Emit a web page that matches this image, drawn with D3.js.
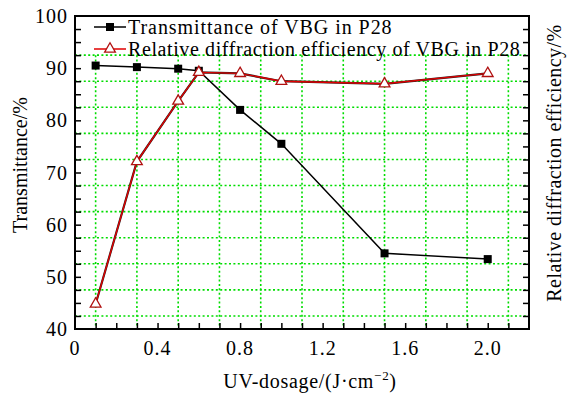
<!DOCTYPE html>
<html lang="en">
<head>
    <meta charset="UTF-8">
    <title>VBG transmittance</title>
    <style>
        body { margin: 0; background: white; }
        svg { display: block; font-family: "Liberation Serif", "Times New Roman", serif; }
    </style>
</head>
<body>
    <svg width="572" height="396"></svg>
    <script src="https://d3js.org/d3.v7.min.js"></script>
    <script>
        // data
        const dosage = [0.1, 0.3, 0.5, 0.6, 0.8, 1.0, 1.5, 2.0]
        const transmittance = [90.5, 90.2, 89.9, 89.5, 82.0, 75.5, 54.5, 53.4]
        const diffraction = [44.8, 72.1, 83.7, 89.2, 89.0, 87.5, 87.0, 89.0]
        const xTickLabels = [0, 0.4, 0.8, 1.2, 1.6, 2.0]
        const yTickLabels = [40, 50, 60, 70, 80, 90, 100]
        const legendNames = ['Transmittance of VBG in P28', 'Relative diffraction efficiency of VBG in P28']

        const svg = d3.select('svg')
        const plotLeft = 75, plotRight = 529, plotTop = 16, plotBottom = 329

        const x = d3.scaleLinear().domain([0, 2.2]).range([plotLeft, plotRight])
        const y = d3.scaleLinear().domain([40, 100]).range([plotBottom, plotTop])

        const xMinor = d3.range(1, 22).map(i => i / 10)
        const yMinor = d3.range(1, 24).map(i => 40 + i * 2.5)
        const xGrid = xMinor.filter((d, i) => i % 2 == 0)
        const yGrid = yMinor.filter((d, i) => i % 2 == 0 && d < 95)

        const green = '#00dd00'
        // grid
        svg.append('g').selectAll('line').data(yGrid).enter().append('line')
            .attr('x1', plotLeft).attr('x2', plotRight)
            .attr('y1', d => y(d)).attr('y2', d => y(d))
            .attr('stroke', green).attr('stroke-width', 1.6).attr('stroke-dasharray', '2,2.4')
        svg.append('g').selectAll('line').data(xGrid).enter().append('line')
            .attr('x1', d => x(d)).attr('x2', d => x(d))
            .attr('y1', y(92.5)).attr('y2', plotBottom)
            .attr('stroke', green).attr('stroke-width', 1.6).attr('stroke-dasharray', '2,2.4')

        // axes: ticks point inward
        const xAxis = d3.axisBottom(x).tickValues(xMinor).tickSize(-6).tickFormat('')
        const gx = svg.append('g').attr('transform', `translate(0,${plotBottom})`).call(xAxis)
        const yAxisL = d3.axisLeft(y).tickValues(yMinor).tickSize(-6).tickFormat('')
        const gy = svg.append('g').attr('transform', `translate(${plotLeft},0)`).call(yAxisL)
        const yAxisR = d3.axisRight(y).tickValues(yMinor).tickSize(-6).tickFormat('')
        const gr = svg.append('g').attr('transform', `translate(${plotRight},0)`).call(yAxisR)
        ;[gx, gy, gr].forEach(g => {
            g.select('.domain').remove()
            g.selectAll('line').attr('stroke', 'black').attr('stroke-width', 1.5)
        })

        svg.append('rect')
            .attr('x', plotLeft).attr('y', plotTop)
            .attr('width', plotRight - plotLeft).attr('height', plotBottom - plotTop)
            .attr('fill', 'none').attr('stroke', 'black').attr('stroke-width', 2)

        // tick labels
        svg.append('g').selectAll('text').data(xTickLabels).enter().append('text')
            .attr('x', d => x(d)).attr('y', 355)
            .attr('text-anchor', 'middle').attr('font-size', 20).attr('letter-spacing', 1)
            .text(d => d == 0 ? '0' : d.toFixed(1))
        svg.append('g').selectAll('text').data(yTickLabels).enter().append('text')
            .attr('x', 68).attr('y', d => y(d) + 7)
            .attr('text-anchor', 'end').attr('font-size', 20).attr('letter-spacing', 1)
            .text(d => d)

        // axis titles
        const xt = svg.append('text').attr('x', 310).attr('y', 388)
            .attr('text-anchor', 'middle').attr('font-size', 20).attr('letter-spacing', 0.7)
        xt.append('tspan').text('UV-dosage/(J\u00b7cm')
        xt.append('tspan').attr('dy', -8).attr('font-size', 13).text('\u22122')
        xt.append('tspan').attr('dy', 8).text(')')

        svg.append('text')
            .attr('transform', `translate(27,165) rotate(-90)`)
            .attr('text-anchor', 'middle').attr('font-size', 20)
            .text('Transmittance/%')
        svg.append('text')
            .attr('transform', `translate(561,163) rotate(-90)`)
            .attr('text-anchor', 'middle').attr('font-size', 20).attr('letter-spacing', 0.45)
            .text('Relative diffraction efficiency/%')

        // lines
        const tPts = dosage.map((d, i) => [d, transmittance[i]])
        const rPts = dosage.map((d, i) => [d, diffraction[i]])
        const line = d3.line().x(d => x(d[0])).y(d => y(d[1]))

        svg.append('path').datum(rPts).attr('d', line)
            .attr('fill', 'none').attr('stroke', '#222').attr('stroke-width', 2.2)
        svg.append('path').datum(rPts).attr('d', line)
            .attr('fill', 'none').attr('stroke', '#e00000').attr('stroke-width', 1.4)
        svg.append('path').datum(tPts).attr('d', line)
            .attr('fill', 'none').attr('stroke', 'black').attr('stroke-width', 1.5)

        const tri = d3.symbol().type(d3.symbolTriangle).size(50)
        svg.append('g').selectAll('rect').data(tPts).enter().append('rect')
            .attr('x', d => x(d[0]) - 4).attr('y', d => y(d[1]) - 4)
            .attr('width', 8).attr('height', 8).attr('fill', 'black')
        svg.append('g').selectAll('path').data(rPts).enter().append('path')
            .attr('d', tri)
            .attr('transform', d => `translate(${x(d[0])},${y(d[1])})`)
            .attr('fill', 'white').attr('stroke', '#b01010').attr('stroke-width', 1.3)

        // legend
        const legend = svg.append('g')
        const legendSpacing = [0.95, 0.6]
        legendNames.forEach((name, i) => {
            const ly = 27 + i * 22
            const color = i == 0 ? 'black' : '#e00000'
            legend.append('line').attr('x1', 94).attr('x2', 126)
                .attr('y1', ly).attr('y2', ly)
                .attr('stroke', color).attr('stroke-width', 1.5)
            if (i == 0) {
                legend.append('rect').attr('x', 106).attr('y', ly - 4)
                    .attr('width', 8).attr('height', 8).attr('fill', 'black')
            } else {
                legend.append('path').attr('d', tri)
                    .attr('transform', `translate(110,${ly})`)
                    .attr('fill', 'white').attr('stroke', '#b01010').attr('stroke-width', 1.3)
            }
            legend.append('text').attr('x', 128).attr('y', ly + 7)
                .attr('font-size', 20).attr('letter-spacing', legendSpacing[i]).text(name)
        })
    </script>
</body>
</html>
